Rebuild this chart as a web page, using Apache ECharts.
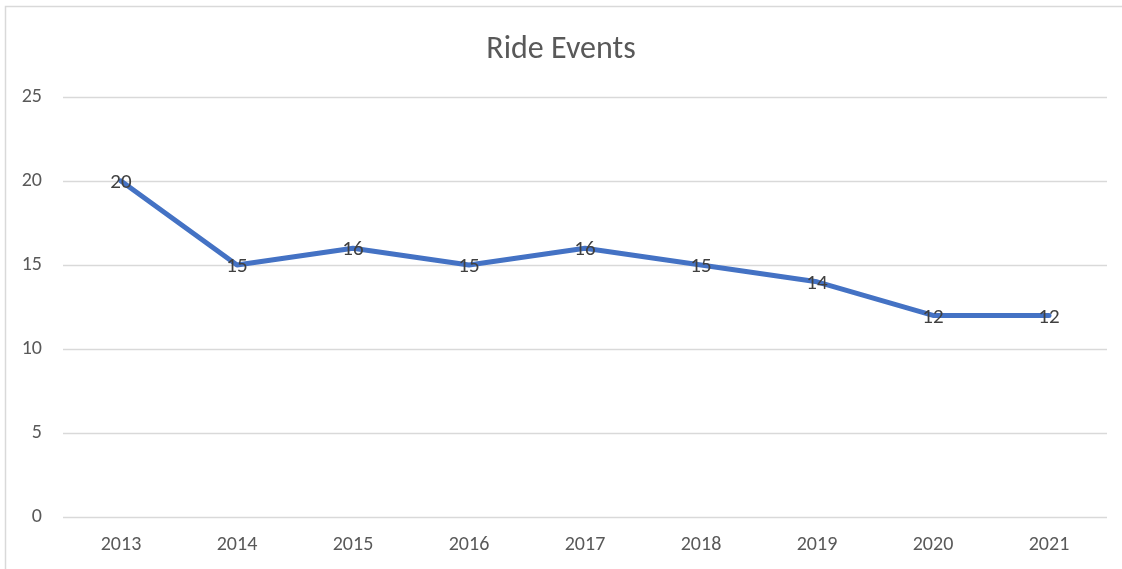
<!DOCTYPE html>
<html>
<head>
<meta charset="utf-8">
<script src="https://cdn.jsdelivr.net/npm/echarts@6/dist/echarts.min.js"></script>
<style>
html,body{margin:0;padding:0;background:#fff;}
#chart{width:1122px;height:569px;}
</style>
</head>
<body>
<div id="chart"></div>
<script>
const categories = ['2013','2014','2015','2016','2017','2018','2019','2020','2021'];
const rideEvents = [20,15,16,15,16,15,14,12,12];
const yTicks = {min:0, max:25, interval:5};

const FONT = 'Calibri, Carlito, Lato, sans-serif';
const chart = echarts.init(document.getElementById('chart'), null, {renderer:'canvas'});
chart.setOption({
  animation:false,
  backgroundColor:'#fff',
  title:{
    text:'Ride Events', left:'center', top:29,
    textStyle:{fontFamily:FONT, fontSize:32, fontWeight:'normal', color:'#595959'}
  },
  graphic:[{
    type:'rect', shape:{x:5.5,y:6.5,width:1140,height:600},
    style:{fill:'none', stroke:'#d9d9d9', lineWidth:1.5}, silent:true
  }],
  grid:{left:63, right:15, top:97, bottom:52},
  xAxis:{
    type:'category', data:categories, boundaryGap:true,
    axisLine:{show:false}, axisTick:{show:false},
    axisLabel:{fontFamily:FONT, fontSize:20, color:'#595959', margin:18}
  },
  yAxis:{
    type:'value', min:yTicks.min, max:yTicks.max, interval:yTicks.interval,
    axisLine:{show:false}, axisTick:{show:false},
    splitLine:{lineStyle:{color:'#d9d9d9', width:1.3}},
    axisLabel:{fontFamily:FONT, fontSize:20, color:'#595959', margin:21, align:'right'}
  },
  series:[{
    type:'line', data:rideEvents, showSymbol:true, symbol:'circle', symbolSize:1,
    lineStyle:{color:'#4472C4', width:5, join:'round', cap:'round'},
    itemStyle:{color:'#4472C4'},
    label:{show:true, position:'inside', offset:[0,2], fontFamily:FONT, fontSize:21, color:'#404040'}
  }]
});
</script>
</body>
</html>
